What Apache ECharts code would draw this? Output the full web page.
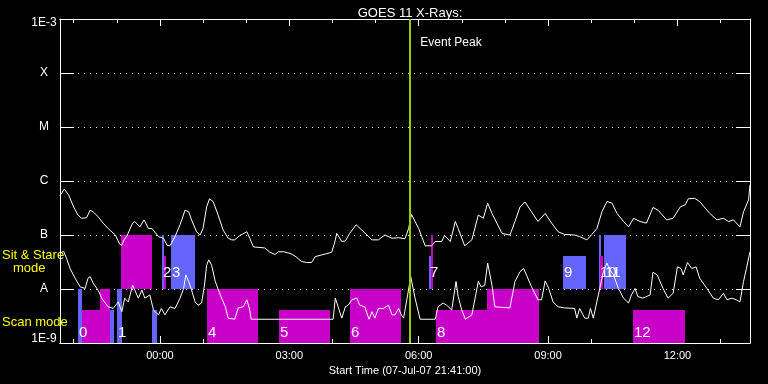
<!DOCTYPE html>
<html><head><meta charset="utf-8">
<script src="https://cdn.jsdelivr.net/npm/echarts@6/dist/echarts.min.js"></script>
<style>html,body{margin:0;padding:0;background:#000;}#c{width:768px;height:384px;}</style>
</head><body><div id="c"></div>
<script>
// ---------- DATA ----------
const titleText = 'GOES 11 X-Rays:';
const startClock = '21:41';
const startLabel = 'Start Time (07-Jul-07 21:41:00)';
const spanMinutes = 960;                 // minutes shown after start
const hourTickClocks = ['22:00','23:00','00:00','01:00','02:00','03:00','04:00','05:00','06:00','07:00','08:00','09:00','10:00','11:00','12:00','13:00'];
const xTickLabels = ['00:00','03:00','06:00','09:00','12:00'];
const levelExponents = [-9,-8,-7,-6,-5,-4,-3];
const levelLabels = ['1E-9','A','B','C','M','X','1E-3'];
const eventPeakMinute = 486;
const eventPeakText = 'Event Peak';
const modeTexts = ['Sit & Stare', 'mode', 'Scan mode'];

// GOES long channel (1-8 A), [minutes after start, log10 flux]
const longChannel = [[0,-6.27],[6,-6.15],[12,-6.26],[19,-6.48],[25,-6.63],[30,-6.69],[37,-6.68],[42,-6.54],[46,-6.57],[53,-6.66],[60,-6.78],[67,-6.88],[77,-7.00],[83,-7.17],[86,-7.19],[89,-7.09],[93,-7.02],[101,-6.78],[104,-6.75],[111,-6.85],[117,-6.72],[123,-6.88],[128,-6.88],[137,-7.03],[144,-7.06],[149,-7.19],[153,-7.20],[160,-7.03],[167,-6.81],[174,-6.54],[179,-6.57],[183,-6.72],[190,-6.94],[195,-7.00],[199,-6.88],[204,-6.48],[208,-6.33],[213,-6.38],[220,-6.63],[227,-6.91],[234,-7.06],[239,-7.09],[243,-7.09],[250,-7.01],[260,-6.94],[264,-7.06],[269,-7.22],[271,-7.24],[285,-7.24],[292,-7.32],[299,-7.36],[304,-7.31],[311,-7.31],[320,-7.34],[327,-7.39],[336,-7.49],[343,-7.51],[350,-7.51],[355,-7.40],[364,-7.37],[378,-7.32],[382,-7.15],[385,-6.97],[392,-7.12],[397,-7.11],[403,-6.97],[412,-6.81],[420,-6.91],[434,-7.09],[443,-7.09],[452,-7.00],[462,-7.06],[471,-7.05],[480,-7.07],[485,-6.88],[489,-6.62],[499,-6.88],[508,-7.20],[517,-7.20],[522,-7.12],[531,-7.12],[535,-7.01],[543,-7.12],[550,-6.75],[554,-6.88],[563,-7.20],[573,-7.09],[582,-6.63],[589,-6.69],[595,-6.41],[601,-6.60],[615,-6.97],[626,-7.00],[633,-6.75],[640,-6.48],[647,-6.39],[656,-6.57],[665,-6.75],[675,-6.60],[684,-6.78],[693,-6.94],[702,-6.99],[716,-7.00],[723,-7.03],[733,-7.09],[740,-6.99],[747,-6.88],[754,-6.57],[761,-6.38],[768,-6.41],[775,-6.60],[784,-6.75],[791,-6.85],[798,-6.69],[807,-6.75],[816,-6.78],[825,-6.49],[832,-6.54],[844,-6.72],[853,-6.69],[863,-6.48],[870,-6.44],[874,-6.33],[883,-6.32],[890,-6.38],[904,-6.60],[914,-6.72],[923,-6.69],[930,-6.75],[937,-6.72],[946,-6.85],[951,-6.57],[958,-6.35],[960,-6.07]];

// GOES short channel (0.5-4 A), [minutes after start, log10 flux]
const shortChannel = [[0,-7.34],[5,-7.30],[9,-7.43],[14,-7.62],[21,-7.80],[28,-7.96],[35,-7.99],[39,-7.80],[42,-7.77],[46,-7.89],[53,-8.02],[58,-8.17],[67,-8.33],[74,-8.36],[81,-8.24],[86,-8.42],[90,-8.17],[95,-8.24],[101,-7.93],[104,-8.02],[109,-8.17],[114,-8.02],[118,-8.17],[125,-8.11],[130,-8.39],[137,-8.48],[141,-8.36],[146,-8.48],[153,-8.33],[160,-8.36],[167,-8.17],[172,-7.99],[175,-7.74],[179,-7.86],[183,-8.02],[188,-8.24],[192,-8.30],[197,-8.26],[201,-7.93],[204,-7.56],[207,-7.46],[211,-7.56],[216,-7.86],[223,-8.11],[230,-8.33],[234,-8.54],[243,-8.56],[248,-8.35],[255,-8.33],[260,-8.20],[264,-8.39],[266,-8.56],[380,-8.56],[383,-8.17],[387,-8.33],[392,-8.54],[397,-8.33],[401,-8.30],[406,-8.20],[413,-8.17],[417,-8.30],[424,-8.33],[430,-8.56],[434,-8.42],[438,-8.54],[443,-8.36],[450,-8.36],[457,-8.30],[462,-8.48],[466,-8.48],[471,-8.36],[475,-8.48],[478,-8.54],[482,-8.24],[488,-7.77],[494,-8.17],[501,-8.56],[522,-8.56],[526,-8.33],[533,-8.26],[538,-8.30],[545,-8.39],[551,-7.86],[554,-8.14],[559,-8.39],[564,-8.56],[573,-8.48],[582,-7.86],[586,-7.96],[591,-7.93],[595,-7.52],[601,-7.93],[605,-8.33],[626,-8.35],[633,-7.86],[640,-7.68],[645,-7.62],[649,-7.74],[656,-7.96],[665,-8.20],[670,-8.20],[675,-7.85],[680,-7.99],[686,-8.24],[693,-8.33],[702,-8.35],[716,-8.36],[719,-8.54],[723,-8.36],[730,-8.54],[735,-8.54],[738,-8.36],[742,-8.54],[749,-8.11],[756,-7.68],[761,-7.52],[764,-7.62],[770,-7.74],[777,-7.99],[784,-8.17],[791,-8.26],[795,-8.11],[800,-7.99],[804,-8.14],[811,-8.17],[821,-8.11],[825,-7.69],[831,-7.74],[839,-7.99],[846,-8.17],[853,-8.08],[859,-7.59],[864,-7.62],[867,-7.74],[873,-7.51],[879,-7.62],[885,-7.59],[890,-7.80],[900,-7.99],[909,-8.17],[916,-8.20],[923,-8.08],[928,-8.20],[935,-8.17],[941,-8.20],[946,-8.24],[951,-7.86],[955,-7.62],[960,-7.31]];

// Observation blocks
const obsStart = [25, 31, 56, 70, 79, 85, 128, 141.5, 144.5, 154, 205, 305, 403, 513, 516, 523, 594, 700, 750, 751, 757, 797];
const obsEnd   = [31, 70, 70, 75, 86, 128, 134.5, 145, 147.5, 188, 276, 376, 475, 516, 518.5, 666, 666, 732, 753, 755, 788, 870];
const obsLow   = [-9, -9, -9, -9, -9, -8, -9, -8, -8, -8, -9, -9, -9, -8, -8, -9, -9, -8, -8, -8, -8, -9];
const obsHigh  = [-8, -8.38, -8, -8.38, -8, -7, -8.38, -7, -7.38, -7, -8, -8.38, -8, -7.38, -7, -8.38, -8, -7.38, -7, -7.38, -7, -8.38];
const obsInstr = [1, 0, 0, 1, 1, 0, 1, 1, 0, 1, 0, 0, 0, 1, 0, 0, 0, 1, 1, 0, 1, 0];
const obsLabel = ['0','','','','1','','','2','','3','4','5','6','7','','8','','9','10','','11','12'];

// ---------- BUILD ----------
const toMin = s => { const [h,m] = s.split(':').map(Number); const [h0,m0] = startClock.split(':').map(Number); return ((h*60+m) - (h0*60+m0) + 1440) % 1440; };
const hourTicks = hourTickClocks.map(toMin);
const majorTicks = xTickLabels.map(toMin);
const instrColor = ['#c800c8', '#6464ff'];
const FONT = 'Liberation Sans';

const obsData = obsStart.map((s,i) => [s, obsEnd[i], obsLow[i], obsHigh[i], obsInstr[i]]);
const labelData = obsStart.map((s,i) => [s, obsLow[i], i]).filter(d => obsLabel[d[2]] !== '');

const chart = echarts.init(document.getElementById('c'), null, {renderer:'canvas'});
const white = '#ffffff';
function xAx(pos, len, vals, labels){
  return {
    type:'value', position:pos, min:0, max:spanMinutes,
    axisLine:{show:true, onZero:false, lineStyle:{color:white, width:1}},
    axisTick:{show:true, inside:true, length:len, customValues:vals, lineStyle:{color:white, width:1}},
    axisLabel:{show:labels, customValues: majorTicks, color:white, fontFamily:FONT, fontSize:11, margin:7,
      formatter: v => { const k = majorTicks.indexOf(v); return k >= 0 ? xTickLabels[k] : ''; }},
    splitLine:{show:false}
  };
}
const xMain = xAx('bottom', 7, majorTicks, true);
xMain.name = startLabel; xMain.nameLocation = 'middle'; xMain.nameGap = 19;
xMain.nameTextStyle = {color:white, fontFamily:FONT, fontSize:11};

const yRich = {
  t:{color:white, fontFamily:FONT, fontSize:12, padding:[8,0,0,0]},
  b:{color:white, fontFamily:FONT, fontSize:12, padding:[0,0,8,0]}
};

const option = {
  backgroundColor:'#000',
  animation:false,
  title:{text:titleText, left:405, top:2, textAlign:'center', textStyle:{color:white, fontFamily:FONT, fontSize:13, fontWeight:'normal'}},
  grid:{left:60, right:18, top:19, bottom:41, containLabel:false},
  xAxis:[ xMain, xAx('bottom', 4, hourTicks, false), xAx('top', 7, majorTicks, false), xAx('top', 4, hourTicks, false) ],
  yAxis:[
    {type:'value', position:'left', min:-9, max:-3, interval:1,
     axisLine:{show:true, onZero:false, lineStyle:{color:white}},
     axisTick:{show:true, inside:true, length:14, lineStyle:{color:white}},
     axisLabel:{color:white, fontFamily:FONT, fontSize:12, align:'center', margin:16, rich:yRich,
       formatter: v => {
         const e = Math.round(v); const k = levelExponents.indexOf(e);
         if (k < 0) return '';
         if (e === levelExponents[levelExponents.length-1]) return '{t|' + levelLabels[k] + '}';
         if (e === levelExponents[0]) return '{b|' + levelLabels[k] + '}';
         return levelLabels[k];
       }},
     splitLine:{show:true, lineStyle:{color:white, width:1, type:[1,5]}}},
    {type:'value', position:'right', min:-9, max:-3, interval:1,
     axisLine:{show:true, onZero:false, lineStyle:{color:white}},
     axisTick:{show:true, inside:true, length:14, lineStyle:{color:white}},
     axisLabel:{show:false}, splitLine:{show:false}}
  ],
  graphic:[
    {type:'text', left:2, top:249, style:{text:modeTexts[0], fill:'#ffff00', font:'13px "Liberation Sans"'}},
    {type:'text', left:13, top:262, style:{text:modeTexts[1], fill:'#ffff00', font:'13px "Liberation Sans"'}},
    {type:'text', left:2, top:316, style:{text:modeTexts[2], fill:'#ffff00', font:'13px "Liberation Sans"'}}
  ],
  series:[
    {type:'custom', z:1, data:obsData, encode:{x:[0,1], y:[2,3]}, clip:true,
     renderItem:(params, api) => {
       const p0 = api.coord([api.value(0), api.value(3)]);
       const p1 = api.coord([api.value(1), api.value(2)]);
       const x0 = Math.round(p0[0]), x1 = Math.round(p1[0]), y0 = Math.round(p0[1]), y1 = Math.round(p1[1]);
       return {type:'rect', shape:{x:x0, y:y0, width:Math.max(1,x1-x0), height:y1-y0}, style:{fill:instrColor[api.value(4)]}};
     }},
    {type:'custom', z:2, data:labelData, encode:{x:0, y:1},
     renderItem:(params, api) => {
       const p = api.coord([api.value(0), api.value(1)]);
       const low = api.value(1);
       const idx = api.value(2);
       return {type:'text', x: Math.round(p[0]) + 1, y: p[1] - (low <= -9 ? 10.5 : 16.5),
         style:{text:obsLabel[idx], fill:white, font:'15px "Liberation Sans"', textVerticalAlign:'middle', textAlign:'left'}};
     }},
    {type:'line', z:3, data:longChannel, showSymbol:false, symbol:'none', lineStyle:{color:white, width:1}, clip:true,
     markLine:{silent:true, symbol:'none', label:{show:false}, lineStyle:{color:'#99cc00', width:2, type:'solid'},
       data:[{xAxis:eventPeakMinute}]},
     markPoint:{silent:true, symbol:'circle', symbolSize:0,
       data:[{coord:[eventPeakMinute, -3.44], value:eventPeakText}],
       label:{show:true, position:'right', distance:11, color:white, fontFamily:FONT, fontSize:12, formatter:eventPeakText}}},
    {type:'line', z:3, data:shortChannel, showSymbol:false, symbol:'none', lineStyle:{color:white, width:1}, clip:true}
  ]
};
chart.setOption(option);
</script></body></html>
